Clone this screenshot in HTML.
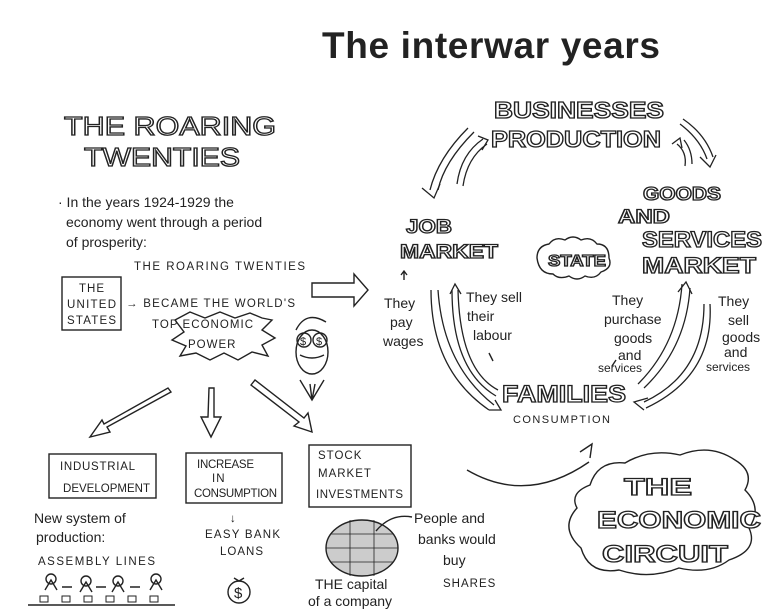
<!DOCTYPE html>
<html><head><meta charset="utf-8"><style>
html,body{margin:0;padding:0;background:#fff}
svg{display:block}
text{font-family:"Liberation Sans",sans-serif;fill:#222}
.o{fill:#fff;stroke:#222;stroke-width:1.3;font-weight:bold}
.s{font-size:11.5px;letter-spacing:1px}
.w{font-size:14px}
</style></head><body>
<svg width="768" height="616" viewBox="0 0 768 616" xmlns="http://www.w3.org/2000/svg" fill="none" stroke="#222" stroke-width="1.4">
<text x="322" y="58" textLength="338" style="font-size:37px;font-weight:bold" stroke="none">The interwar years</text>
<text x="64" y="135" class="o" textLength="212" lengthAdjust="spacingAndGlyphs" style="font-size:26px;font-weight:normal">THE ROARING</text>
<text x="84" y="166" class="o" textLength="156" lengthAdjust="spacingAndGlyphs" style="font-size:26px;font-weight:normal">TWENTIES</text>
<g stroke="none" class="w">
<text x="58" y="207">· In the years 1924-1929 the</text>
<text x="66" y="227">economy went through a period</text>
<text x="66" y="247">of prosperity:</text>
</g>
<text x="134" y="270" class="s" stroke="none" textLength="172">THE ROARING TWENTIES</text>
<rect x="62" y="277" width="59" height="53"/>
<text x="79" y="292" class="s" stroke="none">THE</text>
<text x="67" y="308" class="s" stroke="none" textLength="50">UNITED</text>
<text x="67" y="324" class="s" stroke="none" textLength="50">STATES</text>
<text x="126" y="307" class="s" stroke="none" textLength="170">→ BECAME THE WORLD'S</text>
<polygon points="175,320 190,312 205,318 220,312 235,318 250,313 262,318 272,320 262,330 275,338 262,345 268,356 252,352 238,360 224,353 210,360 196,353 180,356 186,346 172,340 184,332"/>
<text x="152" y="328" class="s" stroke="none" textLength="102">TOP ECONOMIC</text>
<text x="188" y="348" class="s" stroke="none">POWER</text>
<ellipse cx="312" cy="352" rx="16" ry="22"/>
<circle cx="304" cy="340" r="7"/><circle cx="320" cy="340" r="7"/>
<text x="300" y="345" stroke="none" style="font-size:11px">$</text><text x="316" y="345" stroke="none" style="font-size:11px">$</text>
<path d="M296,330 q10,-20 30,-8 M300,355 q12,6 24,0 M300,380 l12,20 l12,-20 M310,384 l2,16 l3,-16"/>
<polygon points="312,283 354,283 354,274 368,290 354,306 354,297 312,297"/>
<polygon points="168,388 171,392 107,427 110,432 90,437 102,420 104,424"/>
<polygon points="209,388 214,388 214,417 221,417 211,437 201,417 208,417"/>
<polygon points="251,385 255,380 304,418 308,413 312,432 294,426 299,422"/>
<rect x="49" y="454" width="107" height="44"/>
<text x="60" y="470" class="s" stroke="none" textLength="76">INDUSTRIAL</text>
<text x="63" y="492" class="s" stroke="none" textLength="88">DEVELOPMENT</text>
<rect x="186" y="453" width="96" height="50"/>
<text x="197" y="468" class="s" stroke="none" textLength="58">INCREASE</text>
<text x="212" y="482" class="s" stroke="none">IN</text>
<text x="194" y="497" class="s" stroke="none" textLength="84">CONSUMPTION</text>
<rect x="309" y="445" width="102" height="62"/>
<text x="318" y="459" class="s" stroke="none">STOCK</text>
<text x="318" y="477" class="s" stroke="none">MARKET</text>
<text x="316" y="498" class="s" stroke="none" textLength="88">INVESTMENTS</text>
<g stroke="none" class="w">
<text x="34" y="523">New system of</text>
<text x="36" y="542">production:</text>
</g>
<text x="38" y="565" class="s" stroke="none" textLength="118">ASSEMBLY LINES</text>
<path d="M28,605 L175,605 M45,590 l6,-10 l6,10 M80,592 l6,-10 l6,10 M112,592 l6,-10 l6,10 M150,590 l6,-10 l6,10 M62,587 h10 M96,587 h10 M130,587 h10"/>
<circle cx="51" cy="579" r="5"/><circle cx="86" cy="581" r="5"/><circle cx="118" cy="581" r="5"/><circle cx="156" cy="579" r="5"/>
<path d="M40,596 h8 v6 h-8z M62,596 h8 v6 h-8z M84,596 h8 v6 h-8z M106,596 h8 v6 h-8z M128,596 h8 v6 h-8z M150,596 h8 v6 h-8z" stroke-width="1"/>
<text x="230" y="522" class="s" stroke="none">↓</text>
<text x="205" y="538" class="s" stroke="none" textLength="76">EASY BANK</text>
<text x="220" y="555" class="s" stroke="none">LOANS</text>
<circle cx="239" cy="592" r="11"/><path d="M234,578 l5,3 l5,-3"/>
<text x="234" y="598" stroke="none" style="font-size:15px">$</text>
<ellipse cx="362" cy="548" rx="36" ry="28" fill="#ccc"/>
<path d="M326,548 h72 M330,534 h64 M330,562 h64 M350,520 v56 M374,520 v56" stroke-width="0.8"/>
<path d="M376,531 q15,-18 36,-14"/>
<text x="315" y="589" stroke="none" class="w">THE capital</text>
<text x="308" y="606" stroke="none" class="w">of a company</text>
<g stroke="none" class="w">
<text x="414" y="523">People and</text>
<text x="418" y="544">banks would</text>
<text x="443" y="565">buy</text>
</g>
<text x="443" y="587" class="s" stroke="none">SHARES</text>
<text x="494" y="118" class="o" textLength="170" lengthAdjust="spacingAndGlyphs" style="font-size:23px">BUSINESSES</text>
<text x="491" y="147" class="o" textLength="170" lengthAdjust="spacingAndGlyphs" style="font-size:23px">PRODUCTION</text>
<text x="643" y="200" class="o" textLength="78" lengthAdjust="spacingAndGlyphs" style="font-size:18px">GOODS</text>
<text x="618" y="223" class="o" textLength="52" lengthAdjust="spacingAndGlyphs" style="font-size:19px">AND</text>
<text x="642" y="247" class="o" textLength="120" lengthAdjust="spacingAndGlyphs" style="font-size:22px">SERVICES</text>
<text x="642" y="273" class="o" textLength="114" lengthAdjust="spacingAndGlyphs" style="font-size:22px">MARKET</text>
<text x="406" y="233" class="o" textLength="46" lengthAdjust="spacingAndGlyphs" style="font-size:19px">JOB</text>
<text x="400" y="258" class="o" textLength="98" lengthAdjust="spacingAndGlyphs" style="font-size:19px">MARKET</text>
<path d="M537,258 q0,-12 12,-14 q6,-8 16,-4 q8,-6 16,0 q10,-4 16,4 q12,0 12,14 q4,10 -8,14 q-6,8 -16,4 q-8,6 -16,0 q-10,4 -16,-2 q-14,0 -16,-16z"/>
<text x="548" y="266" class="o" textLength="58" lengthAdjust="spacingAndGlyphs" style="font-size:16px">STATE</text>
<text x="502" y="402" class="o" textLength="124" lengthAdjust="spacingAndGlyphs" style="font-size:24px">FAMILIES</text>
<text x="513" y="423" class="s" stroke="none" style="font-size:11px" textLength="98">CONSUMPTION</text>
<g stroke-width="1.3">
<path d="M468,128 q-30,30 -38,62 M474,132 q-30,30 -36,58"/>
<path d="M422,188 l12,10 l6,-14"/>
<path d="M457,184 q4,-30 26,-45 M463,186 q4,-28 24,-42"/>
<path d="M478,136 l10,4 l-6,10"/>
<path d="M680,124 q20,15 27,35 M683,119 q22,15 30,38"/>
<path d="M700,157 l10,10 l6,-12"/>
<path d="M685,166 q2,-14 -8,-22 M692,164 q0,-14 -8,-24"/>
<path d="M672,144 l8,-6 l2,10"/>
<path d="M431,290 q0,80 58,120 M438,290 q5,75 56,115"/>
<path d="M489,410 l12,0 l-6,-10"/>
<path d="M458,290 q2,80 40,100 M452,290 q0,80 44,106"/>
<path d="M450,294 l5,-10 l6,10"/>
<path d="M638,384 q40,-40 44,-100 M644,388 q42,-40 46,-100"/>
<path d="M678,292 l8,-10 l6,12"/>
<path d="M704,304 q0,70 -60,98 M710,304 q4,72 -64,104"/>
<path d="M648,398 l-14,4 l10,8"/>
</g>
<g stroke="none" class="w">
<text x="384" y="308">They</text>
<text x="390" y="327">pay</text>
<text x="383" y="346">wages</text>
<text x="466" y="302">They sell</text>
<text x="467" y="321">their</text>
<text x="473" y="340">labour</text>
<text x="612" y="305">They</text>
<text x="604" y="324">purchase</text>
<text x="614" y="343">goods</text>
<text x="618" y="360">and</text>
<text x="598" y="372" style="font-size:12px">services</text>
<text x="718" y="306">They</text>
<text x="728" y="325">sell</text>
<text x="722" y="342">goods</text>
<text x="724" y="357">and</text>
<text x="706" y="371" style="font-size:12px">services</text>
</g>
<path d="M404,280 l0,-8 M401,275 l3,-4 l3,4 M489,353 l4,8 M616,360 l-4,6"/>
<path d="M467,470 q60,35 122,-8"/>
<path d="M580,452 l12,-8 l-2,14"/>
<path d="M590,485 q8,-25 35,-22 q25,-15 55,-8 q30,-12 55,5 q20,12 10,30 q18,18 4,38 q10,22 -20,32 q-20,15 -50,8 q-30,12 -60,2 q-30,5 -38,-22 q-22,-20 -4,-40 q-8,-15 13,-23z"/>
<text x="624" y="495" class="o" textLength="68" lengthAdjust="spacingAndGlyphs" style="font-size:24px">THE</text>
<text x="597" y="528" class="o" textLength="164" lengthAdjust="spacingAndGlyphs" style="font-size:24px">ECONOMIC</text>
<text x="602" y="562" class="o" textLength="126" lengthAdjust="spacingAndGlyphs" style="font-size:24px">CIRCUIT</text>
</svg>
</body></html>
